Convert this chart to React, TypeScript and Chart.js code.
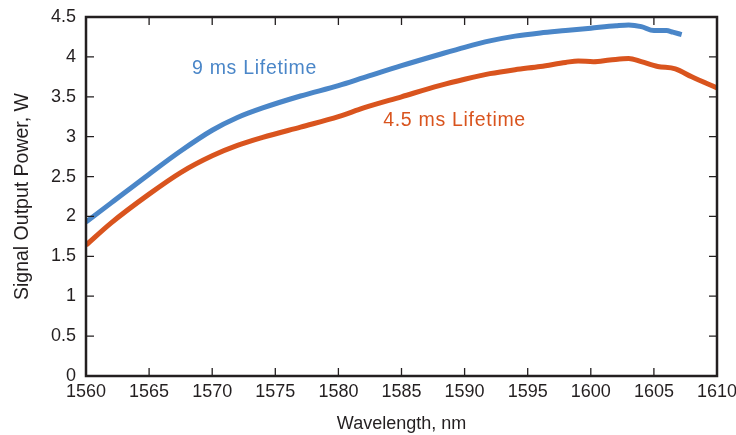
import React, { useEffect, useRef } from "react";
import { Chart, registerables } from "chart.js";

Chart.register(...registerables);

const wavelength9 = [1560, 1562, 1565, 1567.5, 1570, 1572, 1574, 1577, 1580, 1582, 1585, 1588, 1590, 1592, 1594, 1596, 1598, 1600, 1602, 1603, 1604, 1605, 1606, 1606.5, 1607.2];
const power9 = [1.93, 2.17, 2.53, 2.82, 3.08, 3.24, 3.36, 3.51, 3.64, 3.74, 3.89, 4.03, 4.12, 4.2, 4.26, 4.3, 4.33, 4.36, 4.39, 4.4, 4.38, 4.33, 4.33, 4.31, 4.28];

const wavelength45 = [1560, 1562, 1565, 1567.5, 1570, 1572, 1574, 1577, 1580, 1582, 1585, 1588, 1590, 1592, 1594, 1596, 1598, 1599, 1600.2, 1601.5, 1603, 1604, 1605.3, 1606.7, 1608, 1610];
const power45 = [1.64, 1.92, 2.28, 2.55, 2.76, 2.89, 2.99, 3.12, 3.25, 3.36, 3.5, 3.64, 3.72, 3.79, 3.84, 3.88, 3.93, 3.95, 3.94, 3.96, 3.98, 3.94, 3.88, 3.85, 3.75, 3.61];

const xTicks = [1560, 1565, 1570, 1575, 1580, 1585, 1590, 1595, 1600, 1605, 1610];
const yTicks = [0, 0.5, 1, 1.5, 2, 2.5, 3, 3.5, 4, 4.5];

const labels = [
  { text: "9 ms Lifetime", x: 1568.4, y: 3.85, color: "#4a86c8" },
  { text: "4.5 ms Lifetime", x: 1583.55, y: 3.2, color: "#d9541e" },
];

const FONT = "'Liberation Sans', Arial, Helvetica, sans-serif";
const TEXT = "#231f20";

const framePlugin = {
  id: "frame",
  afterDatasetsDraw(chart: any) {
    const { ctx, chartArea: a, scales } = chart;
    const xs = scales.x;
    const ys = scales.y;
    ctx.save();
    ctx.strokeStyle = TEXT;
    ctx.lineWidth = 1.3;
    const tl = 8;
    xTicks.forEach((v) => {
      const px = xs.getPixelForValue(v);
      ctx.beginPath();
      ctx.moveTo(px, a.bottom);
      ctx.lineTo(px, a.bottom - tl);
      ctx.moveTo(px, a.top);
      ctx.lineTo(px, a.top + tl);
      ctx.stroke();
    });
    yTicks.forEach((v) => {
      const py = ys.getPixelForValue(v);
      ctx.beginPath();
      ctx.moveTo(a.left, py);
      ctx.lineTo(a.left + tl, py);
      ctx.moveTo(a.right, py);
      ctx.lineTo(a.right - tl, py);
      ctx.stroke();
    });
    ctx.lineWidth = 2.5;
    ctx.strokeRect(a.left, a.top, a.right - a.left, a.bottom - a.top);
    ctx.font = `19.5px ${FONT}`;
    (ctx as any).letterSpacing = "0.7px";
    ctx.textBaseline = "middle";
    ctx.textAlign = "left";
    labels.forEach((l) => {
      ctx.fillStyle = l.color;
      ctx.fillText(l.text, xs.getPixelForValue(l.x), ys.getPixelForValue(l.y));
    });
    ctx.restore();
  },
};

export default function App() {
  const ref = useRef<HTMLCanvasElement>(null);
  useEffect(() => {
    document.body.style.margin = "0";
    const chart = new Chart(ref.current!, {
      type: "line",
      data: {
        datasets: [
          {
            data: wavelength9.map((x, i) => ({ x, y: power9[i] })),
            borderColor: "#4a86c8",
            borderWidth: 5,
            pointRadius: 0,
            cubicInterpolationMode: "monotone",
          },
          {
            data: wavelength45.map((x, i) => ({ x, y: power45[i] })),
            borderColor: "#d9541e",
            borderWidth: 5,
            pointRadius: 0,
            cubicInterpolationMode: "monotone",
          },
        ],
      },
      options: {
        animation: false,
        responsive: false,
        layout: { padding: { top: 17, right: 19, left: 0, bottom: 0 } },
        plugins: { legend: { display: false }, tooltip: { enabled: false } },
        scales: {
          x: {
            type: "linear",
            min: 1560,
            max: 1610,
            afterBuildTicks: (s: any) => {
              s.ticks = xTicks.map((v) => ({ value: v }));
            },
            afterFit: (s: any) => {
              s.height = 59;
              s.paddingLeft = 0;
              s.paddingRight = 0;
            },
            ticks: {
              color: TEXT,
              font: { size: 18, family: FONT },
              padding: 5,
              maxRotation: 0,
              autoSkip: false,
              callback: (v: any) => String(v),
            },
            grid: { display: false, drawTicks: false },
            border: { display: false },
            title: { display: true, text: "Wavelength, nm", color: TEXT, font: { size: 18, family: FONT }, padding: { top: 0, bottom: 0 } },
          },
          y: {
            type: "linear",
            min: 0,
            max: 4.5,
            afterBuildTicks: (s: any) => {
              s.ticks = yTicks.map((v) => ({ value: v }));
            },
            afterFit: (s: any) => {
              s.width = 86;
              s.paddingTop = 0;
              s.paddingBottom = 0;
            },
            ticks: {
              color: TEXT,
              font: { size: 18, family: FONT },
              padding: 10,
              autoSkip: false,
              callback: (v: any) => String(v),
            },
            grid: { display: false, drawTicks: false },
            border: { display: false },
            title: { display: true, text: "Signal Output Power, W", color: TEXT, font: { size: 19.5, family: FONT }, padding: { top: 11, bottom: 0 } },
          },
        },
      },
      plugins: [framePlugin],
    });
    return () => chart.destroy();
  }, []);
  return (
    <div style={{ width: 736, height: 435, background: "#fff" }}>
      <canvas ref={ref} width={736} height={435} />
    </div>
  );
}
